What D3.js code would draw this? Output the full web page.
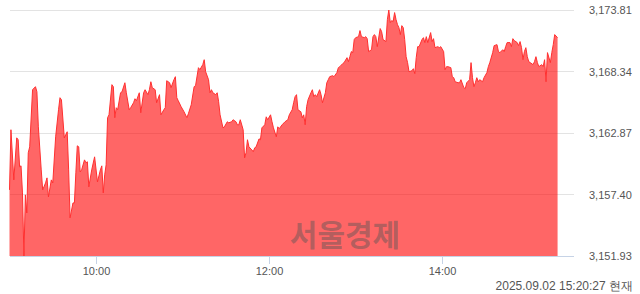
<!DOCTYPE html>
<html>
<head>
<meta charset="utf-8">
<script src="https://cdnjs.cloudflare.com/ajax/libs/d3/7.8.5/d3.min.js"></script>
<style>
    body { margin: 0; background: #fff; }
    svg { display: block; font-family: "Liberation Sans", Arial, sans-serif; }
    .grid line { stroke: #e3e3e3; stroke-width: 1; }
    .axis-label { fill: #555; font-size: 11px; }
    .area { fill: #ff0000; fill-opacity: 0.6; }
    .line { fill: none; stroke: #ff3030; stroke-width: 1; }
</style>
</head>
<body>
<svg width="640" height="294"></svg>
<script>
    // Session data (KOSPI intraday), minutes after the 09:00 open
    const openTime = "09:00";
    const closeTime = "15:30";
    const minutesSinceOpen = [
        0, 1, 3, 5, 6, 7, 8, 9, 10, 11, 12, 13, 14, 16, 18, 19, 20, 22, 23, 25,
        26, 27, 29, 30, 32, 34, 35, 36, 38, 40, 41, 42, 44, 45, 46, 47, 48, 49, 50, 52,
        53, 54, 55, 57, 59, 61, 63, 64, 65, 66, 67, 68, 69, 71, 72, 73, 74, 75, 77, 78,
        80, 81, 83, 84, 86, 87, 88, 90, 91, 93, 94, 96, 97, 98, 99, 101, 102, 104, 105, 107,
        108, 109, 111, 112, 114, 115, 116, 117, 119, 121, 123, 124, 126, 128, 129, 131, 132, 134, 135, 136,
        138, 139, 140, 141, 143, 144, 145, 146, 148, 149, 151, 152, 154, 155, 157, 158, 159, 160, 162, 163,
        164, 165, 166, 168, 169, 170, 171, 173, 174, 175, 177, 178, 179, 181, 182, 183, 185, 186, 187, 189,
        191, 193, 194, 196, 197, 198, 199, 200, 202, 203, 204, 205, 206, 207, 209, 210, 211, 212, 213, 215,
        216, 217, 219, 220, 221, 222, 224, 225, 227, 228, 229, 231, 232, 234, 235, 236, 237, 238, 239, 240,
        242, 243, 244, 246, 247, 248, 249, 251, 252, 253, 254, 255, 257, 258, 259, 261, 262, 263, 264, 265,
        266, 267, 268, 269, 270, 271, 272, 273, 274, 275, 276, 277, 279, 280, 281, 282, 283, 284, 286, 287,
        288, 289, 290, 292, 293, 294, 295, 297, 298, 299, 301, 302, 303, 304, 306, 307, 308, 309, 311, 312,
        313, 315, 316, 317, 319, 320, 321, 322, 323, 324, 325, 326, 328, 329, 331, 332, 333, 335, 336, 338,
        339, 340, 342, 343, 344, 345, 347, 348, 349, 350, 352, 353, 354, 355, 356, 357, 358, 359, 360, 361,
        363, 364, 365, 366, 367, 369, 370, 371, 372, 373, 375, 376, 377, 378, 380
    ];
    const values = [
        3157.81, 3163.16, 3158.70, 3162.44, 3162.27, 3159.86, 3159.95, 3157.54, 3151.93, 3157.37,
        3155.76, 3161.11, 3161.64, 3166.72, 3166.99, 3166.54, 3163.42, 3159.59, 3157.81, 3158.43,
        3158.88, 3157.19, 3158.70, 3158.43, 3162.53, 3164.94, 3166.01, 3165.83, 3162.44, 3162.98,
        3159.59, 3155.32, 3156.65, 3156.65, 3159.33, 3161.73, 3161.64, 3159.41, 3159.59, 3160.48,
        3160.22, 3160.31, 3158.08, 3159.59, 3160.75, 3158.52, 3159.59, 3159.95, 3157.54, 3159.15,
        3160.04, 3164.23, 3164.49, 3167.17, 3166.99, 3164.23, 3165.12, 3164.94, 3166.45, 3166.54,
        3167.34, 3166.45, 3164.94, 3165.12, 3165.56, 3165.92, 3165.74, 3166.45, 3164.67, 3166.45,
        3166.72, 3166.28, 3166.72, 3167.43, 3166.90, 3166.72, 3165.56, 3166.28, 3164.49, 3164.94,
        3165.12, 3167.52, 3167.34, 3166.90, 3167.61, 3167.88, 3166.01, 3165.74, 3165.21, 3164.76,
        3164.23, 3164.58, 3165.38, 3166.99, 3167.08, 3168.68, 3168.50, 3168.95, 3169.39, 3168.32,
        3167.61, 3166.45, 3166.72, 3166.45, 3166.28, 3166.45, 3165.65, 3164.49, 3163.33, 3163.42,
        3163.87, 3163.78, 3163.87, 3164.05, 3163.87, 3163.60, 3163.60, 3164.05, 3163.16, 3160.66,
        3161.11, 3162.27, 3161.64, 3161.37, 3161.20, 3161.55, 3161.64, 3162.35, 3162.27, 3163.33,
        3163.60, 3164.31, 3164.05, 3164.49, 3163.87, 3163.33, 3162.53, 3163.42, 3163.25, 3163.60,
        3163.87, 3164.05, 3164.49, 3164.94, 3165.56, 3166.10, 3166.28, 3164.94, 3164.76, 3164.23,
        3164.49, 3163.60, 3165.21, 3165.83, 3166.45, 3166.72, 3166.10, 3166.28, 3166.10, 3166.72,
        3166.28, 3165.56, 3166.45, 3167.34, 3167.61, 3167.88, 3167.97, 3167.88, 3168.24, 3168.68,
        3168.77, 3169.04, 3169.13, 3169.57, 3169.22, 3169.66, 3170.11, 3170.02, 3171.18, 3171.35,
        3171.44, 3171.98, 3171.44, 3171.35, 3171.44, 3171.26, 3170.11, 3170.28, 3171.44, 3171.62,
        3171.44, 3170.55, 3172.16, 3171.89, 3171.18, 3171.00, 3172.96, 3173.81, 3172.69, 3172.87,
        3172.78, 3173.58, 3172.96, 3172.51, 3172.24, 3171.62, 3172.42, 3172.24, 3171.18, 3169.66,
        3169.13, 3168.32, 3168.41, 3168.59, 3168.15, 3169.57, 3170.55, 3170.55, 3171.18, 3171.35,
        3170.91, 3171.44, 3170.91, 3171.80, 3171.00, 3171.26, 3170.46, 3170.55, 3170.46, 3170.55,
        3170.11, 3168.50, 3168.77, 3168.77, 3168.68, 3167.88, 3167.79, 3167.43, 3167.34, 3167.34,
        3167.61, 3166.90, 3166.81, 3167.34, 3167.61, 3169.13, 3167.79, 3166.99, 3167.34, 3167.79,
        3167.43, 3167.61, 3167.43, 3167.79, 3168.24, 3168.77, 3169.13, 3170.02, 3170.64, 3170.73,
        3170.11, 3170.02, 3170.28, 3170.11, 3170.55, 3170.91, 3170.91, 3170.55, 3171.26, 3171.09,
        3170.91, 3170.64, 3171.00, 3170.46, 3169.39, 3170.11, 3170.46, 3169.66, 3169.22, 3169.13,
        3168.95, 3169.22, 3169.66, 3169.13, 3168.77, 3168.95, 3168.77, 3169.39, 3167.43, 3170.02,
        3169.13, 3170.02, 3170.73, 3171.62, 3171.35
    ];
    const yTicks = [3151.93, 3157.40, 3162.87, 3168.34, 3173.81];
    const xTicks = ["10:00", "12:00", "14:00"];
    const stampText = "2025.09.02 15:20:27 현재";
    const watermark = "서울경제";

    const day = "2025-09-02";
    const parseTime = d3.timeParse("%Y-%m-%d %H:%M");
    const open = parseTime(`${day} ${openTime}`);

    const data = minutesSinceOpen.map((m, i) => ({
        time: d3.timeMinute.offset(open, m),
        value: values[i]
    }));

    const plotLeft = 10, plotRight = 574, plotTop = 10, plotBottom = 256;

    const svg = d3.select("svg");

    const x = d3.scaleTime()
        .domain([open, parseTime(`${day} ${closeTime}`)])
        .range([9.5, 572]);

    const y = d3.scaleLinear()
        .domain([yTicks[0], yTicks[yTicks.length - 1]])
        .range([plotBottom, plotTop]);

    // grid lines
    svg.append("g")
        .attr("class", "grid")
        .selectAll("line")
        .data(yTicks.slice(1))
        .enter()
        .append("line")
        .attr("x1", plotLeft)
        .attr("x2", plotRight)
        .attr("y1", d => Math.round(y(d)) + 0.5)
        .attr("y2", d => Math.round(y(d)) + 0.5);

    // area + line
    const area = d3.area()
        .x(d => x(d.time))
        .y0(plotBottom)
        .y1(d => y(d.value));

    const line = d3.line()
        .x(d => x(d.time))
        .y(d => y(d.value));

    svg.append("path")
        .datum(data)
        .attr("class", "area")
        .attr("d", area);

    svg.append("path")
        .datum(data)
        .attr("class", "line")
        .attr("d", line);

    // watermark
    svg.append("text")
        .attr("x", 345)
        .attr("y", 246)
        .attr("text-anchor", "middle")
        .style("font-family", "'Noto Sans CJK KR', sans-serif")
        .style("font-size", "30px")
        .style("font-weight", "bold")
        .style("fill", "#555")
        .style("fill-opacity", 0.45)
        .text(watermark);

    // bottom axis
    svg.append("line")
        .attr("x1", plotLeft)
        .attr("x2", plotRight)
        .attr("y1", plotBottom + 0.5)
        .attr("y2", plotBottom + 0.5)
        .style("stroke", "#c6d3e6");

    const xt = svg.append("g")
        .selectAll("g")
        .data(xTicks)
        .enter()
        .append("g")
        .attr("transform", d => `translate(${Math.round(x(parseTime(`${day} ${d}`))) + 0.5},0)`);

    xt.append("line")
        .attr("y1", plotBottom)
        .attr("y2", plotBottom + 8)
        .style("stroke", "#c6d3e6");

    xt.append("text")
        .attr("class", "axis-label")
        .attr("y", plotBottom + 19)
        .attr("text-anchor", "middle")
        .text(d => d);

    // right labels
    const fmt = d3.format(",.2f");
    svg.append("g")
        .selectAll("text")
        .data(yTicks)
        .enter()
        .append("text")
        .attr("class", "axis-label")
        .attr("x", 589)
        .attr("y", d => y(d) + 4)
        .text(d => fmt(d));

    // timestamp
    svg.append("text")
        .attr("x", 633)
        .attr("y", 290)
        .attr("text-anchor", "end")
        .style("font-size", "12px")
        .style("fill", "#555")
        .text(stampText);
</script>
</body>
</html>
